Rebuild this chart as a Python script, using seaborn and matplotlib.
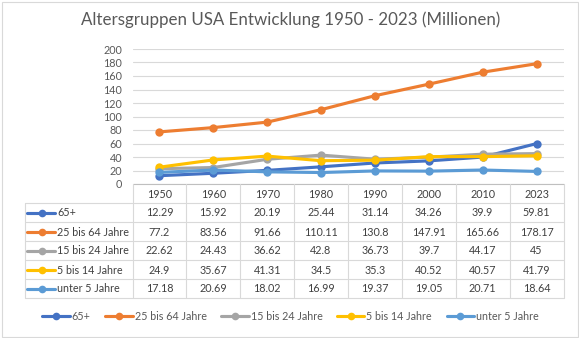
import matplotlib
matplotlib.use("Agg")
import matplotlib.pyplot as plt
import seaborn as sns
import pandas as pd
from matplotlib.lines import Line2D
from matplotlib.patches import Rectangle

years = ["1950", "1960", "1970", "1980", "1990", "2000", "2010", "2023"]
age_65_plus = [12.29, 15.92, 20.19, 25.44, 31.14, 34.26, 39.9, 59.81]
age_25_64 = [77.2, 83.56, 91.66, 110.11, 130.8, 147.91, 165.66, 178.17]
age_15_24 = [22.62, 24.43, 36.62, 42.8, 36.73, 39.7, 44.17, 45]
age_5_14 = [24.9, 35.67, 41.31, 34.5, 35.3, 40.52, 40.57, 41.79]
age_under_5 = [17.18, 20.69, 18.02, 16.99, 19.37, 19.05, 20.71, 18.64]

series_names = ["65+", "25 bis 64 Jahre", "15 bis 24 Jahre", "5 bis 14 Jahre", "unter 5 Jahre"]
series_values = [age_65_plus, age_25_64, age_15_24, age_5_14, age_under_5]
colors = ["#4472C4", "#ED7D31", "#A5A5A5", "#FFC000", "#5B9BD5"]

title = "Altersgruppen USA Entwicklung 1950 - 2023 (Millionen)"

sns.set_theme(style="white")
plt.rcParams["font.family"] = ["Lato", "DejaVu Sans"]

W, H = 579, 338
TEXT = "#595959"
TABLE_TEXT = "#404040"
GRID = "#D9D9D9"


def fx(px):
    return px / W


def fy(py):
    return 1 - py / H


fig = plt.figure(figsize=(W / 100, H / 100), dpi=100)
fig.patch.set_facecolor("white")
renderer = fig.canvas.get_renderer()


def fit_size(text, width_px, base=10.0):
    t = fig.text(0, 0, text, fontsize=base)
    w = t.get_window_extent(renderer=renderer).width
    t.remove()
    return base * width_px / w


FS = fit_size("25 bis 64 Jahre", 72)
TITLE_FS = fit_size(title, 417)
fs_px = FS * 100 / 72

plot_left, plot_right = 132.5, 563.5
plot_top, plot_bottom = 49, 184
ax = fig.add_axes([fx(plot_left), fy(plot_bottom),
                   (plot_right - plot_left) / W, (plot_bottom - plot_top) / H])

rows = []
for name, vals in zip(series_names, series_values):
    for i, v in enumerate(vals):
        rows.append({"pos": i, "Jahr": years[i], "Gruppe": name, "Wert": v})
df = pd.DataFrame(rows)

sns.lineplot(data=df, x="pos", y="Wert", hue="Gruppe", hue_order=series_names,
             palette=colors, marker="o", markersize=6, markeredgewidth=0,
             linewidth=2.25, legend=False, ax=ax)

ax.set_xlim(-0.5, len(years) - 0.5)
ax.set_ylim(0, 200)
ax.set_yticks(range(0, 201, 20))
ax.set_xticks([])
ax.set_xlabel("")
ax.set_ylabel("")
ax.grid(axis="y", color=GRID, linewidth=0.8)
ax.set_axisbelow(True)
for s in ax.spines.values():
    s.set_visible(False)
ax.tick_params(axis="y", length=0, pad=7.5, labelsize=FS, labelcolor=TEXT)

# Data table under the plot
n = len(years)
col_w = (plot_right - plot_left) / n
row_h = 19
table_left = 24.5
header_top = plot_bottom
row_tops = [header_top + row_h * (k + 1) for k in range(len(series_names))]
table_bottom = row_tops[-1] + row_h


def hline(y, x0, x1, color=GRID):
    fig.add_artist(Line2D([fx(x0), fx(x1)], [fy(y), fy(y)], transform=fig.transFigure,
                          color=color, lw=0.8))


def vline(x, y0, y1, color=GRID):
    fig.add_artist(Line2D([fx(x), fx(x)], [fy(y0), fy(y1)], transform=fig.transFigure,
                          color=color, lw=0.8))


hline(header_top, plot_left, plot_right, "#BFBFBF")
for rt in row_tops:
    hline(rt, table_left, plot_right)
hline(table_bottom, table_left, plot_right)
vline(table_left, row_tops[0], table_bottom)
for k in range(n + 1):
    vline(plot_left + k * col_w, header_top, table_bottom)

for k, yr in enumerate(years):
    fig.text(fx(plot_left + (k + 0.5) * col_w), fy(header_top + row_h / 2 + 0.5), yr,
             ha="center", va="center", fontsize=FS, color=TABLE_TEXT)

for r, (name, vals, c) in enumerate(zip(series_names, series_values, colors)):
    yc = row_tops[r] + row_h / 2 + 0.5
    fig.add_artist(Line2D([fx(27), fx(54.5)], [fy(yc), fy(yc)], transform=fig.transFigure,
                          color=c, lw=2.25))
    fig.add_artist(Line2D([fx(42)], [fy(yc)], transform=fig.transFigure,
                          color=c, marker="o", markersize=5.5, markeredgewidth=0))
    fig.text(fx(57), fy(yc), name, ha="left", va="center", fontsize=FS, color=TABLE_TEXT)
    for k, v in enumerate(vals):
        fig.text(fx(plot_left + (k + 0.5) * col_w), fy(yc), f"{v:g}",
                 ha="center", va="center", fontsize=FS, color=TABLE_TEXT)

# Legend
handles = [Line2D([0], [0], color=c, lw=2.25, marker="o", markersize=5.5, markeredgewidth=0)
           for c in colors]
fig.legend(handles, series_names, ncol=5, loc="center", bbox_to_anchor=(0.5 + 1 / W, fy(316)),
           frameon=False, fontsize=FS, labelcolor=TEXT, handlelength=27.5 / fs_px,
           handletextpad=2 / fs_px, columnspacing=14.5 / fs_px, borderpad=0)

fig.text(0.5 + 1 / W, fy(20), title, ha="center", va="center", fontsize=TITLE_FS, color=TEXT)

fig.add_artist(Rectangle((fx(1.5), fy(336.5)), 576 / W, 335 / H,
                         transform=fig.transFigure, fill=False, edgecolor=GRID, lw=0.8))

fig.savefig("out.png", dpi=100, facecolor="white")
